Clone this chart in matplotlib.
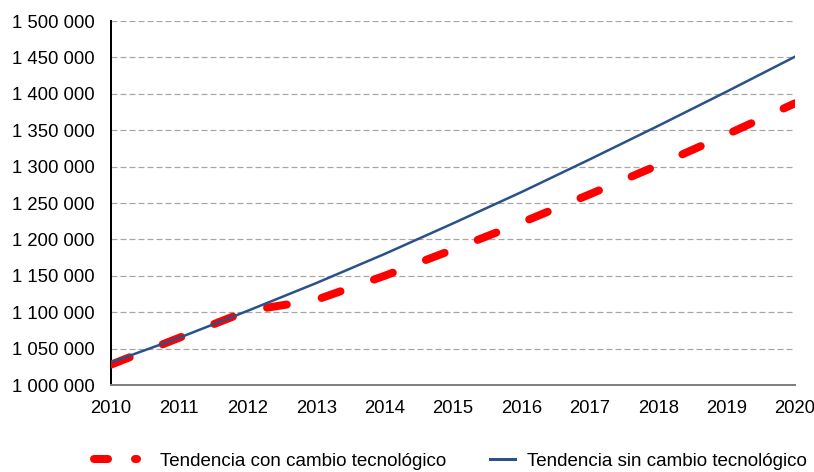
import matplotlib
matplotlib.use("Agg")
import matplotlib.pyplot as plt
from matplotlib.lines import Line2D
from matplotlib.ticker import FuncFormatter

years = [2010, 2011, 2012, 2013, 2014, 2015, 2016, 2017, 2018, 2019, 2020]
con_cambio = [1028000, 1065000, 1102000, 1117000, 1150000, 1186000, 1223000, 1262000, 1302000, 1344000, 1387000]
sin_cambio = [1031000, 1065000, 1102000, 1140000, 1180000, 1222000, 1265000, 1310000, 1356000, 1403000, 1451000]
y_ticks = list(range(1000000, 1500001, 50000))
label_con = "Tendencia con cambio tecnológico"
label_sin = "Tendencia sin cambio tecnológico"

plt.rcParams['font.family'] = ['Liberation Sans', 'DejaVu Sans']
plt.rcParams['lines.scale_dashes'] = False

RED = '#FF0000'
BLUE = '#2A5288'
fs = 13.3
lfs = 13.5
px = 0.72  # points per pixel at dpi 100
em = lfs / px  # legend font size in pixels

fig = plt.figure(figsize=(8.14, 4.72), dpi=100)
ax = fig.add_axes([0.1364, 0.1843, 0.8403, 0.7712])

ax.plot(years, con_cambio, color=RED, lw=8 * px, solid_capstyle='round',
        dash_capstyle='round', linestyle=(0, (20 * px, 35.5 * px)), label=label_con, zorder=3)
ax.plot(years, sin_cambio, color=BLUE, lw=2.5 * px, label=label_sin, zorder=4)

ax.set_xlim(2010, 2020)
ax.set_ylim(1000000, 1500000)
ax.set_xticks(years)
ax.set_yticks(y_ticks)
ax.yaxis.set_major_formatter(FuncFormatter(lambda v, p: f"{int(v):,}".replace(",", " ")))
ax.tick_params(axis='both', length=0, labelsize=fs)
ax.tick_params(axis='y', pad=12)
ax.tick_params(axis='x', pad=11)

ax.grid(axis='y', color='#A6A6A6', lw=1.2 * px, linestyle=(0, (6 * px, 3 * px)))
ax.set_axisbelow(True)
for s in ['top', 'right']:
    ax.spines[s].set_visible(False)
ax.spines['left'].set_color('black')
ax.spines['left'].set_linewidth(2 * px)
ax.spines['bottom'].set_color('#808080')
ax.spines['bottom'].set_linewidth(2 * px)

W, H = 814, 472
ly = 1 - 461 / H

h_con = Line2D([], [], color=RED, lw=8 * px, dash_capstyle='round',
               linestyle=(0, (14 * px, 27 * px)))
h_sin = Line2D([], [], color=BLUE, lw=3 * px)

leg1 = fig.legend([h_con], [label_con], loc='center left', bbox_to_anchor=(94 / W, ly),
                  frameon=False, fontsize=lfs, borderpad=0, borderaxespad=0,
                  handlelength=43 / em, handletextpad=23 / em)
leg2 = fig.legend([h_sin], [label_sin], loc='center left', bbox_to_anchor=(490 / W, ly),
                  frameon=False, fontsize=lfs, borderpad=0, borderaxespad=0,
                  handlelength=25 / em, handletextpad=12 / em)

fig.savefig("out.png", dpi=100)
